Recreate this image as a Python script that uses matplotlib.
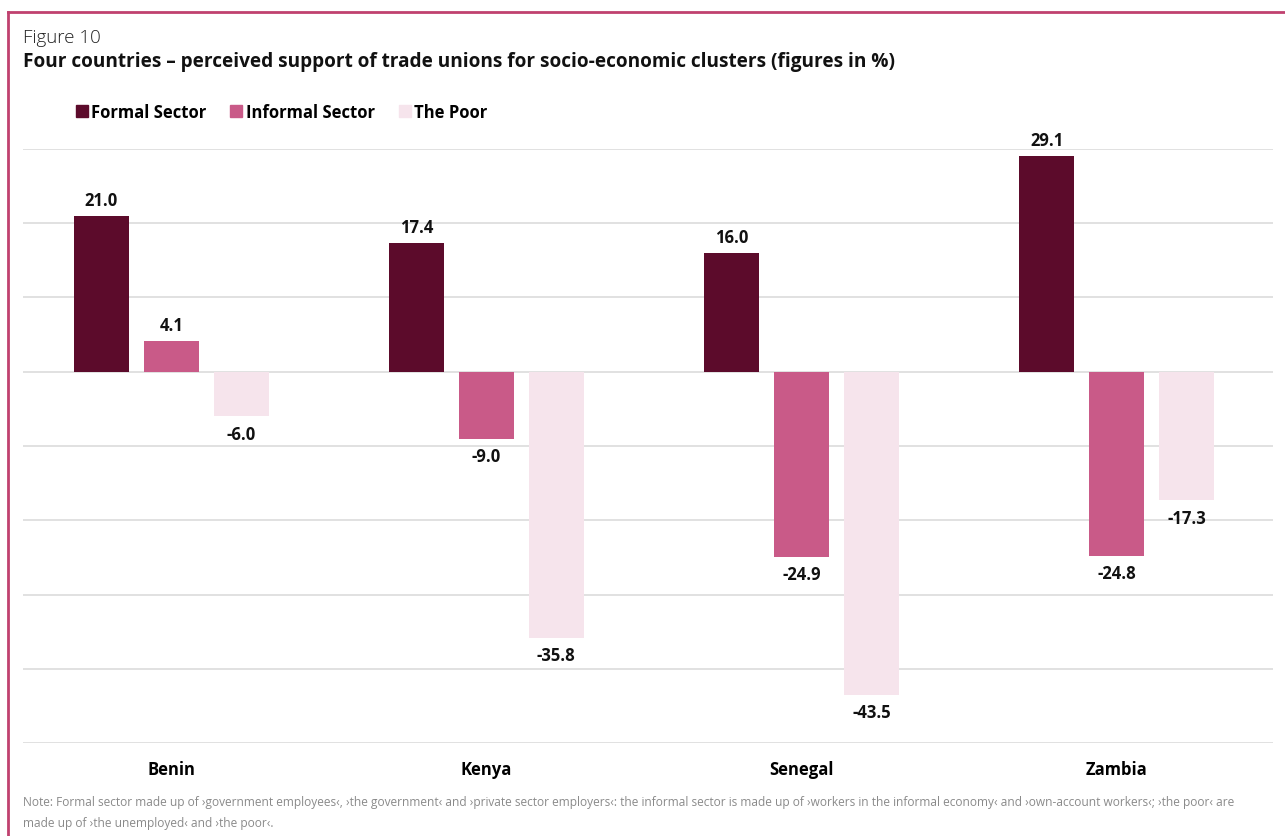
import matplotlib
matplotlib.use("Agg")
import matplotlib.pyplot as plt
import numpy as np
from matplotlib.lines import Line2D

plt.rcParams['font.family'] = ['Open Sans', 'DejaVu Sans']

countries = ["Benin", "Kenya", "Senegal", "Zambia"]
series_names = ["Formal Sector", "Informal Sector", "The Poor"]
formal = [21.0, 17.4, 16.0, 29.1]
informal = [4.1, -9.0, -24.9, -24.8]
poor = [-6.0, -35.8, -43.5, -17.3]
colors = ["#5c0b2b", "#c95a88", "#f6e4ec"]

fig = plt.figure(figsize=(12.85, 8.37), dpi=100)
ax = fig.add_axes([0.0179, 0.1111, 0.9728, 0.7097])

x = np.arange(len(countries))
width = 0.175
offset = 0.222
for i, (vals, col) in enumerate(zip([formal, informal, poor], colors)):
    pos = x + (i - 1) * offset
    bars = ax.bar(pos, vals, width, color=col, zorder=3, label=series_names[i])
    for xb, v in zip(pos, vals):
        ax.annotate(f"{v:.1f}", (xb, v), xytext=(0, 5 if v >= 0 else -6),
                    textcoords="offset points", ha="center",
                    va="bottom" if v >= 0 else "top",
                    fontsize=12, fontweight="bold", color="#111111")

ax.set_ylim(-50, 30)
ax.set_xlim(-0.471, 3.497)
ax.set_yticks(np.arange(-50, 31, 10))
ax.yaxis.grid(True, color="#dcdcdc", linewidth=1.2, zorder=0)
ax.tick_params(axis="y", left=False, labelleft=False)
ax.set_xticks(x)
ax.set_xticklabels(countries, fontsize=12, fontweight="bold")
ax.tick_params(axis="x", length=0, pad=12)
for s in ax.spines.values():
    s.set_visible(False)

# frame lines along the top and left of the figure
fig.add_artist(Line2D([0.0062, 1.0], [1 - 13 / 837, 1 - 13 / 837],
                      color="#c0416f", linewidth=2, transform=fig.transFigure))
fig.add_artist(Line2D([0.0062, 0.0062], [0, 1 - 13 / 837],
                      color="#c0416f", linewidth=2, transform=fig.transFigure))

fig.text(23 / 1285, 1 - 38 / 837, "Figure 10", fontsize=13.5, color="#222222",
         va="center", ha="left", fontweight="light")
fig.text(23 / 1285, 1 - 62 / 837,
         "Four countries \u2013 perceived support of trade unions for socio-economic clusters (figures in %)",
         fontsize=13.7, fontweight="bold", color="#111111", va="center", ha="left")

handles = [Line2D([0], [0], marker="s", linestyle="none", markersize=8.5,
                  markerfacecolor=c, markeredgecolor=c) for c in colors]
leg = fig.legend(handles, series_names, loc="center left",
                 bbox_to_anchor=(62 / 1285, 1 - 113 / 837), ncol=3, frameon=False,
                 handlelength=0.6, handletextpad=0.25, columnspacing=1.5,
                 prop={"weight": "bold", "size": 12})

fig.text(23 / 1285, 1 - 803 / 837,
         "Note: Formal sector made up of \u203agovernment employees\u2039, \u203athe government\u2039 and \u203aprivate sector employers\u2039: "
         "the informal sector is made up of \u203aworkers in the informal economy\u2039 and \u203aown-account workers\u2039; \u203athe poor\u2039 are",
         fontsize=8.6, color="#8a8a8a", va="center", ha="left")
fig.text(23 / 1285, 1 - 824 / 837,
         "made up of \u203athe unemployed\u2039 and \u203athe poor\u2039.",
         fontsize=8.6, color="#8a8a8a", va="center", ha="left")

fig.savefig("out.png", dpi=100)
